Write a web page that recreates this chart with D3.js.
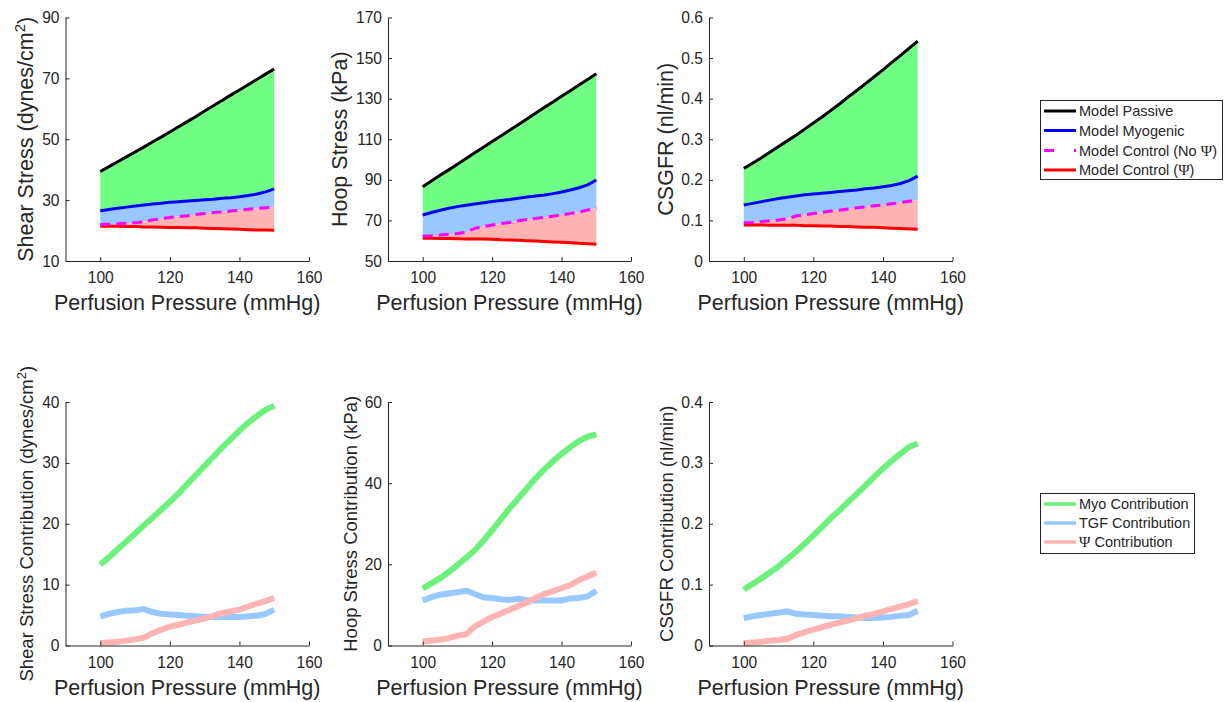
<!DOCTYPE html>
<html>
<head>
<meta charset="utf-8">
<script src="https://cdn.jsdelivr.net/npm/d3@7"></script>
<style>
  html, body { margin: 0; padding: 0; background: #fff; }
  svg { display: block; }
  text { font-family: "Liberation Sans", Arial, Helvetica, sans-serif; fill: #262626; }
</style>
</head>
<body>
<svg id="chart" width="1225" height="702"></svg>
<script>
// ---------------- DATA ----------------
const pressure = [100, 102.5, 105, 107.5, 110, 112.5, 115, 117.5, 120, 122.5, 125, 127.5, 130, 132.5, 135, 137.5, 140, 142.5, 145, 147.5, 150];

// Shear stress (dynes/cm^2)
const shearPassive  = [39.4, 41.0, 42.6, 44.2, 45.8, 47.4, 49.1, 50.7, 52.4, 54.1, 55.8, 57.5, 59.3, 61.0, 62.7, 64.5, 66.2, 67.9, 69.6, 71.4, 73.1];
const shearMyogenic = [26.5, 26.9, 27.3, 27.7, 28.1, 28.4, 28.7, 29.0, 29.3, 29.5, 29.7, 29.9, 30.1, 30.3, 30.6, 30.8, 31.1, 31.5, 32.0, 32.7, 33.7];
const shearNoPsi    = [22.0, 22.1, 22.2, 22.4, 22.6, 22.9, 23.5, 23.9, 24.3, 24.6, 24.9, 25.3, 25.6, 25.9, 26.1, 26.4, 26.7, 27.0, 27.3, 27.5, 27.8];
const shearPsi      = [21.4, 21.4, 21.4, 21.3, 21.3, 21.2, 21.2, 21.1, 21.0, 21.0, 20.9, 20.9, 20.8, 20.7, 20.6, 20.5, 20.4, 20.3, 20.2, 20.2, 20.1];

// Hoop stress (kPa)
const hoopPassive  = [86.6, 89.4, 92.2, 94.9, 97.7, 100.5, 103.3, 106.1, 108.9, 111.6, 114.4, 117.2, 120.0, 122.8, 125.6, 128.4, 131.2, 133.9, 136.7, 139.5, 142.3];
const hoopMyogenic = [72.7, 73.9, 75.0, 76.0, 76.8, 77.5, 78.1, 78.7, 79.3, 79.8, 80.3, 80.9, 81.5, 82.0, 82.5, 83.2, 84.0, 85.0, 86.1, 87.5, 89.9];
const hoopNoPsi    = [62.3, 62.5, 62.8, 63.2, 63.6, 64.2, 66.1, 67.0, 67.7, 68.4, 69.0, 69.8, 70.5, 71.0, 71.5, 72.1, 72.7, 73.4, 74.1, 75.1, 76.1];
const hoopPsi      = [61.2, 61.2, 61.1, 61.1, 61.0, 60.9, 60.9, 60.8, 60.7, 60.5, 60.4, 60.2, 60.0, 59.8, 59.6, 59.4, 59.2, 59.0, 58.7, 58.5, 58.2];

// CSGFR (nl/min)
const gfrPassive  = [0.228, 0.241, 0.254, 0.268, 0.282, 0.296, 0.310, 0.325, 0.340, 0.355, 0.371, 0.387, 0.404, 0.420, 0.437, 0.454, 0.471, 0.489, 0.506, 0.524, 0.542];
const gfrMyogenic = [0.138, 0.142, 0.146, 0.150, 0.154, 0.157, 0.160, 0.163, 0.165, 0.167, 0.169, 0.171, 0.173, 0.175, 0.178, 0.180, 0.183, 0.186, 0.191, 0.198, 0.209];
const gfrNoPsi    = [0.094, 0.095, 0.097, 0.099, 0.101, 0.104, 0.111, 0.114, 0.117, 0.120, 0.123, 0.125, 0.128, 0.131, 0.133, 0.136, 0.138, 0.141, 0.144, 0.147, 0.150];
const gfrPsi      = [0.089, 0.089, 0.089, 0.088, 0.088, 0.088, 0.088, 0.087, 0.087, 0.086, 0.086, 0.085, 0.085, 0.084, 0.083, 0.083, 0.082, 0.081, 0.080, 0.079, 0.078];

// Contributions
const shearMyoContrib = [13.3, 14.5, 15.8, 17.1, 18.4, 19.7, 21.0, 22.3, 23.6, 25.0, 26.5, 28.0, 29.5, 31.0, 32.5, 33.9, 35.3, 36.6, 37.7, 38.7, 39.4];
const shearTgfContrib = [4.8, 5.2, 5.5, 5.7, 5.8, 6.0, 5.5, 5.2, 5.1, 5.0, 4.9, 4.8, 4.7, 4.7, 4.7, 4.7, 4.7, 4.8, 4.9, 5.2, 5.9];
const shearPsiContrib = [0.4, 0.5, 0.6, 0.8, 1.0, 1.3, 2.0, 2.6, 3.1, 3.4, 3.8, 4.1, 4.4, 4.9, 5.3, 5.6, 5.9, 6.4, 6.9, 7.3, 7.8];

const hoopMyoContrib = [14.1, 15.3, 16.6, 18.1, 19.8, 21.6, 23.5, 25.9, 28.4, 31.1, 33.8, 36.2, 38.7, 41.2, 43.4, 45.4, 47.2, 48.9, 50.4, 51.5, 52.0];
const hoopTgfContrib = [11.1, 11.9, 12.5, 12.8, 13.1, 13.5, 12.7, 11.9, 11.7, 11.4, 11.2, 11.5, 11.2, 11.1, 11.1, 11.1, 11.1, 11.6, 11.7, 12.1, 13.5];
const hoopPsiContrib = [1.0, 1.2, 1.4, 1.8, 2.4, 2.8, 4.7, 5.9, 7.0, 7.9, 8.8, 9.7, 10.6, 11.7, 12.7, 13.4, 14.1, 14.9, 16.1, 17.0, 18.0];

const gfrMyoContrib = [0.092, 0.101, 0.110, 0.120, 0.130, 0.142, 0.154, 0.167, 0.181, 0.195, 0.209, 0.222, 0.236, 0.249, 0.263, 0.277, 0.291, 0.303, 0.315, 0.326, 0.332];
const gfrTgfContrib = [0.045, 0.048, 0.050, 0.052, 0.054, 0.056, 0.052, 0.051, 0.050, 0.049, 0.048, 0.048, 0.047, 0.046, 0.045, 0.045, 0.046, 0.047, 0.049, 0.050, 0.057];
const gfrPsiContrib = [0.004, 0.005, 0.006, 0.008, 0.009, 0.011, 0.017, 0.022, 0.026, 0.030, 0.034, 0.038, 0.041, 0.045, 0.049, 0.052, 0.056, 0.060, 0.064, 0.068, 0.073];

// Ticks
const xTicks = [100, 120, 140, 160];
const shearTicks = [10, 30, 50, 70, 90];
const hoopTicks = [50, 70, 90, 110, 130, 150, 170];
const gfrTicks = [0, 0.1, 0.2, 0.3, 0.4, 0.5, 0.6];
const shearContribTicks = [0, 10, 20, 30, 40];
const hoopContribTicks = [0, 20, 40, 60];
const gfrContribTicks = [0, 0.1, 0.2, 0.3, 0.4];

// Legends
const topLegendLabels = ["Model Passive", "Model Myogenic", "Model Control (No Ψ)", "Model Control (Ψ)"];
const bottomLegendLabels = ["Myo Contribution", "TGF Contribution", "Ψ Contribution"];

// ---------------- STYLE ----------------
const AX = "#262626";
const colPassive = "#000000", colMyo = "#0000ff", colNoPsi = "#ff00ff", colPsi = "#ff0000";
const fillGreen = "#70ff84", fillBlue = "#99c8ff", fillPink = "#ffb4b4";
const lineGreen = "#6cf27c", lineBlue = "#99c8ff", linePink = "#ffb4b4";

const svg = d3.select("#chart");

const colsX = [[65.5, 309], [388, 631], [709, 952.5]];
const topY = [17.5, 261], botY = [402, 645.5];
const labelX = [33, 346.5, 673];
const labelXBot = [33, 357, 673];

function axes(g, x, y, yTicks, yFmt) {
  const xa = d3.axisBottom(x).tickValues(xTicks).tickSizeInner(-4).tickSizeOuter(0).tickPadding(11);
  const ya = d3.axisLeft(y).tickValues(yTicks).tickSizeInner(-4).tickSizeOuter(0).tickPadding(6).tickFormat(yFmt);
  const gx = g.append("g").attr("transform", `translate(0,${y.range()[0]})`).call(xa);
  const gy = g.append("g").attr("transform", `translate(${x.range()[0]},0)`).call(ya);
  [gx, gy].forEach(a => {
    a.selectAll("path.domain").attr("stroke", AX).attr("stroke-width", 1);
    a.selectAll(".tick line").attr("stroke", AX).attr("stroke-width", 1);
    a.selectAll(".tick text").attr("fill", AX).style("font-size", "15.6px")
      .style("font-family", '"Liberation Sans", Arial, sans-serif');
  });
}

function xLabel(g, x, baseline) {
  g.append("text").attr("x", (x.range()[0] + x.range()[1]) / 2).attr("y", baseline)
    .attr("text-anchor", "middle").style("font-size", "21.5px").text("Perfusion Pressure (mmHg)");
}

function yLabel(g, bx, cy, size, parts) {
  const t = g.append("text").attr("transform", `translate(${bx},${cy}) rotate(-90)`)
    .attr("text-anchor", "middle").style("font-size", size + "px");
  parts.forEach(p => {
    const s = t.append("tspan").text(p.t);
    if (p.sup) s.attr("baseline-shift", "super").style("font-size", (size * 0.7) + "px");
  });
}

function topPanel(i, passive, myo, noPsi, psi, yDomain, yTicks, yFmt, labelParts) {
  const x = d3.scaleLinear().domain([90, 160]).range(colsX[i]);
  const y = d3.scaleLinear().domain(yDomain).range([topY[1], topY[0]]);
  const g = svg.append("g");
  const area = (hi, lo) => d3.area().x((d, k) => x(pressure[k])).y0((d, k) => y(lo[k])).y1((d, k) => y(hi[k]));
  g.append("path").datum(pressure).attr("d", area(passive, myo)).attr("fill", fillGreen);
  g.append("path").datum(pressure).attr("d", area(myo, noPsi)).attr("fill", fillBlue);
  g.append("path").datum(pressure).attr("d", area(noPsi, psi)).attr("fill", fillPink);
  const line = arr => d3.line().x((d, k) => x(pressure[k])).y((d, k) => y(arr[k]));
  g.append("path").datum(pressure).attr("d", line(passive)).attr("fill", "none").attr("stroke", colPassive).attr("stroke-width", 3);
  g.append("path").datum(pressure).attr("d", line(myo)).attr("fill", "none").attr("stroke", colMyo).attr("stroke-width", 3);
  g.append("path").datum(pressure).attr("d", line(psi)).attr("fill", "none").attr("stroke", colPsi).attr("stroke-width", 3);
  g.append("path").datum(pressure).attr("d", line(noPsi)).attr("fill", "none").attr("stroke", colNoPsi).attr("stroke-width", 3).attr("stroke-dasharray", "10,6");
  axes(g, x, y, yTicks, yFmt);
  xLabel(g, x, 310);
  yLabel(g, labelX[i], (topY[0] + topY[1]) / 2, 21.5, labelParts);
}

function botPanel(i, myoC, tgfC, psiC, yDomain, yTicks, yFmt, labelParts) {
  const x = d3.scaleLinear().domain([90, 160]).range(colsX[i]);
  const y = d3.scaleLinear().domain(yDomain).range([botY[1], botY[0]]);
  const g = svg.append("g");
  const line = arr => d3.line().x((d, k) => x(pressure[k])).y((d, k) => y(arr[k]));
  g.append("path").datum(pressure).attr("d", line(myoC)).attr("fill", "none").attr("stroke", lineGreen).attr("stroke-width", 6);
  g.append("path").datum(pressure).attr("d", line(tgfC)).attr("fill", "none").attr("stroke", lineBlue).attr("stroke-width", 6);
  g.append("path").datum(pressure).attr("d", line(psiC)).attr("fill", "none").attr("stroke", linePink).attr("stroke-width", 6);
  axes(g, x, y, yTicks, yFmt);
  xLabel(g, x, 694.5);
  yLabel(g, labelXBot[i], (botY[0] + botY[1]) / 2, 18.5, labelParts);
}

const fmtInt = d3.format("d");
const fmtDec = d => d === 0 ? "0" : d3.format(".1f")(d);

topPanel(0, shearPassive, shearMyogenic, shearNoPsi, shearPsi, [10, 90], shearTicks, fmtInt,
  [{t: "Shear Stress (dynes/cm"}, {t: "2", sup: true}, {t: ")"}]);
topPanel(1, hoopPassive, hoopMyogenic, hoopNoPsi, hoopPsi, [50, 170], hoopTicks, fmtInt,
  [{t: "Hoop Stress (kPa)"}]);
topPanel(2, gfrPassive, gfrMyogenic, gfrNoPsi, gfrPsi, [0, 0.6], gfrTicks, fmtDec,
  [{t: "CSGFR (nl/min)"}]);

botPanel(0, shearMyoContrib, shearTgfContrib, shearPsiContrib, [0, 40], shearContribTicks, fmtInt,
  [{t: "Shear Stress Contribution (dynes/cm"}, {t: "2", sup: true}, {t: ")"}]);
botPanel(1, hoopMyoContrib, hoopTgfContrib, hoopPsiContrib, [0, 60], hoopContribTicks, fmtInt,
  [{t: "Hoop Stress Contribution (kPa)"}]);
botPanel(2, gfrMyoContrib, gfrTgfContrib, gfrPsiContrib, [0, 0.4], gfrContribTicks, fmtDec,
  [{t: "CSGFR Contribution (nl/min)"}]);

// ---------------- LEGENDS ----------------
function legendText(sel, label) {
  const parts = label.split("Ψ");
  parts.forEach((p, k) => {
    sel.append("tspan").text(p);
    if (k < parts.length - 1) sel.append("tspan").style("font-family", '"Liberation Serif", "DejaVu Serif", serif').style("font-size", "15.5px").text("Ψ");
  });
}

function legend(x0, y0, w, h, rowY, labels, styles) {
  const g = svg.append("g");
  g.append("rect").attr("x", x0).attr("y", y0).attr("width", w).attr("height", h)
    .attr("fill", "#fff").attr("stroke", AX).attr("stroke-width", 1);
  labels.forEach((lab, k) => {
    const st = styles[k];
    const yy = rowY[k];
    g.append("line").attr("x1", x0 + 3.5).attr("x2", x0 + 35.5).attr("y1", yy).attr("y2", yy)
      .attr("stroke", st.c).attr("stroke-width", st.w).attr("stroke-dasharray", st.dash || null);
    const t = g.append("text").attr("x", x0 + 38.5).attr("y", yy).attr("dy", "0.35em").style("font-size", "14.5px").attr("fill", "#000");
    legendText(t, lab);
  });
}

legend(1040.5, 100.5, 182, 79, [111, 130.5, 150.5, 170], topLegendLabels, [
  {c: colPassive, w: 3}, {c: colMyo, w: 3}, {c: colNoPsi, w: 3, dash: "10,20"}, {c: colPsi, w: 3}
]);
legend(1040.5, 493.5, 154, 60, [504, 523, 542], bottomLegendLabels, [
  {c: lineGreen, w: 3.5}, {c: lineBlue, w: 3.5}, {c: linePink, w: 3.5}
]);
</script>
</body>
</html>
